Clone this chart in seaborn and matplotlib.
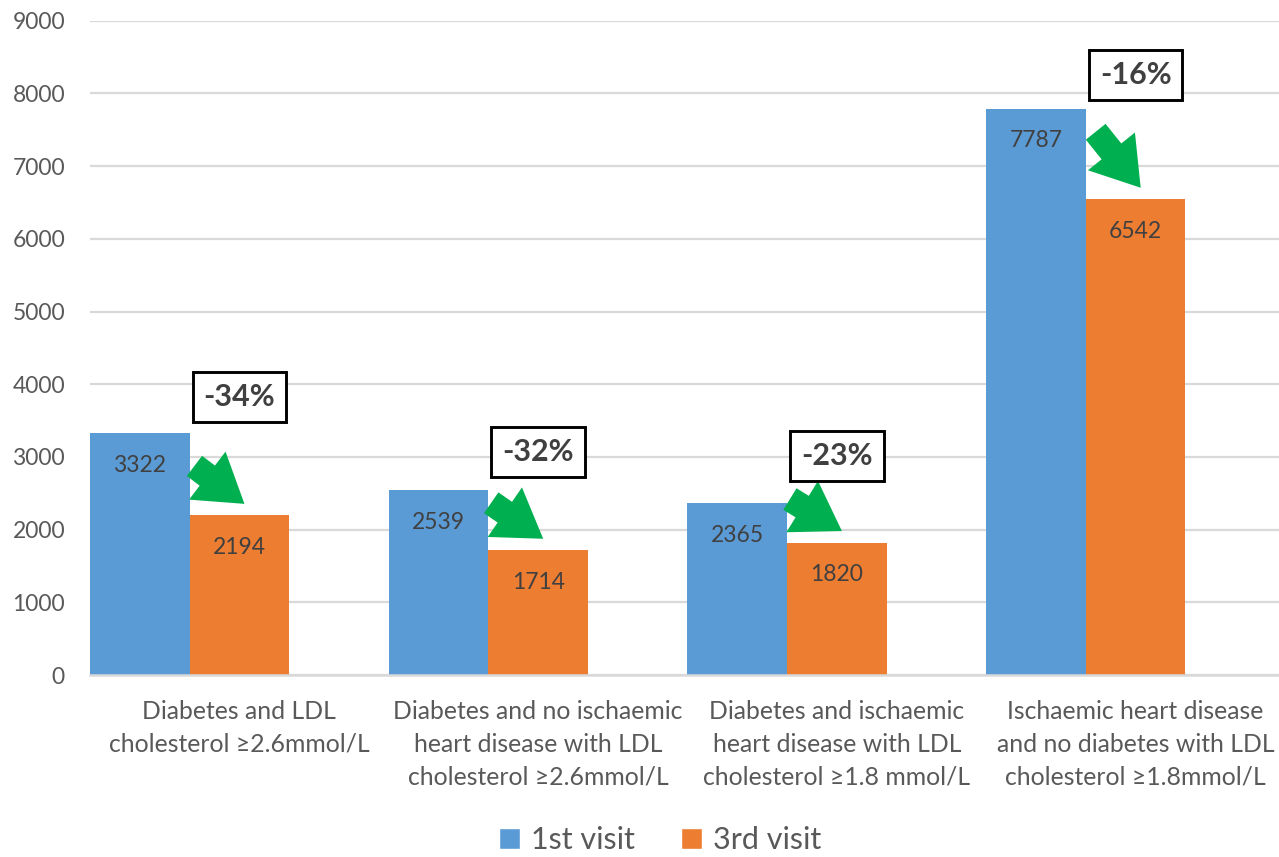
import matplotlib
matplotlib.use("Agg")
import matplotlib.pyplot as plt
from matplotlib.patches import Patch
import pandas as pd
import seaborn as sns

# Patients not reaching LDL target, by group
categories = [
    "Diabetes and LDL\ncholesterol \u22652.6mmol/L",
    "Diabetes and no ischaemic\nheart disease with LDL\ncholesterol \u22652.6mmol/L",
    "Diabetes and ischaemic\nheart disease with LDL\ncholesterol \u22651.8 mmol/L",
    "Ischaemic heart disease\nand no diabetes with LDL\ncholesterol \u22651.8mmol/L",
]
first_visit = [3322, 2539, 2365, 7787]
third_visit = [2194, 1714, 1820, 6542]
change_labels = ["-34%", "-32%", "-23%", "-16%"]
series = ["1st visit", "3rd visit"]
y_ticks = [0, 1000, 2000, 3000, 4000, 5000, 6000, 7000, 8000, 9000]

# layout: height of each change box above the 1st-visit bar,
# and the arrow tail offset (pixels) from its tip
box_lift = [500, 530, 650, 470]
arrow_back = [(-50, 38), (-52, 36), (-52, 32), (-45, 56)]

BLUE = "#5B9BD5"
ORANGE = "#ED7D31"
GREEN = "#00B050"
GRID = "#D9D9D9"
TEXT = "#595959"
DARK = "#404040"

sns.set_theme(style="white")
plt.rcParams["font.family"] = ["Lato", "DejaVu Sans"]

df = pd.DataFrame({
    "category": categories * 2,
    "visit": [series[0]] * 4 + [series[1]] * 4,
    "count": first_visit + third_visit,
})

fig = plt.figure(figsize=(12.79, 8.57), dpi=100)
ax = fig.add_axes([90 / 1279, 1 - 675 / 857, 1 - 90 / 1279, (675 - 20.7) / 857])

# third, empty hue slot keeps the two bars in the left part of each category
sns.barplot(data=df, x="category", y="count", hue="visit",
            hue_order=series + [" "], order=categories,
            palette={series[0]: BLUE, series[1]: ORANGE, " ": "white"},
            width=1.0, saturation=1.0, ax=ax, legend=False, errorbar=None,
            linewidth=0)

ax.set_xlim(-0.5, 3.48)
ax.set_ylim(0, 9000)
ax.set_yticks(y_ticks)
ax.set_yticklabels([str(v) for v in y_ticks], fontsize=16.5, color=TEXT)
ax.set_xticks(range(len(categories)))
ax.set_xticklabels(categories, fontsize=17.8, color=TEXT, linespacing=1.52)
ax.tick_params(axis="y", length=0, pad=18)
ax.tick_params(axis="x", length=0, pad=18)
ax.set_xlabel("")
ax.set_ylabel("")
ax.grid(axis="y", color=GRID, linewidth=1.6)
ax.set_axisbelow(True)
for side in ["top", "right", "left"]:
    ax.spines[side].set_visible(False)
ax.spines["bottom"].set_color(GRID)
ax.spines["bottom"].set_linewidth(1.8)

bar_w = 1.0 / 3
for i in range(len(categories)):
    xb = i - 0.5 + bar_w / 2
    xo = i - 0.5 + 1.5 * bar_w
    for x, v in [(xb, first_visit[i]), (xo, third_visit[i])]:
        ax.annotate(f"{v}", (x, v), xytext=(0, -32), textcoords="offset pixels",
                    ha="center", va="center", fontsize=16.5, color=DARK)
    # arrow pointing from the 1st-visit bar down to the 3rd-visit bar
    ax.annotate("", xy=(xo + 0.017, third_visit[i] + 160),
                xytext=arrow_back[i], textcoords="offset pixels",
                arrowprops=dict(arrowstyle="simple,head_width=3.1,head_length=2.4,tail_width=1.3",
                                mutation_scale=14, color=GREEN, linewidth=0,
                                shrinkA=0, shrinkB=0))
    ax.text(i, first_visit[i] + box_lift[i], change_labels[i], ha="center", va="center",
            fontsize=22, fontweight="bold", color=DARK,
            bbox=dict(boxstyle="square,pad=0.36", facecolor="white",
                      edgecolor="black", linewidth=2.1))

handles = [Patch(facecolor=BLUE, label=series[0]), Patch(facecolor=ORANGE, label=series[1])]
fig.legend(handles=handles, loc="center", bbox_to_anchor=(660 / 1279, 1 - 840 / 857),
           ncol=2, frameon=False, fontsize=22, labelcolor=TEXT,
           handlelength=0.7, handleheight=0.7, handletextpad=0.35, columnspacing=1.5)

fig.savefig("out.png", dpi=100)
